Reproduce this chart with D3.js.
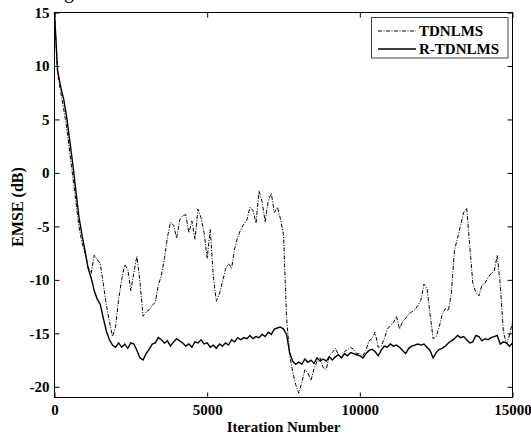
<!DOCTYPE html>
<html>
<head>
<meta charset="utf-8">
<script src="https://cdn.jsdelivr.net/npm/d3@7"></script>
<style>
  body { margin: 0; background: #fff; }
  svg { display: block; font-family: 'Liberation Serif', 'Times New Roman', serif; }
  .tick text { font-family: 'Liberation Serif', 'Times New Roman', serif; font-size: 15px; font-weight: bold; fill: #000; }
</style>
</head>
<body>
<svg id="chart" width="531" height="437"></svg>
<script>
const iterStep = 100;
const tdnlms = [
  15, 9.3, 7.6, 6.0, 4.2, 1.9, -0.4, -2.7, -5.0, -6.5,
  -7.5, -8.8, -9.4, -7.7, -8.1, -8.5, -10.4, -12.4, -13.9, -15.3,
  -14.4, -11.8, -10.0, -8.6, -9.0, -11.0, -9.3, -7.8, -10.2, -13.4,
  -13.0, -12.8, -12.4, -12.1, -10.5, -9.6, -8.0, -6.0, -4.6, -4.9,
  -6.1, -4.4, -4.0, -3.9, -5.6, -4.5, -6.2, -3.4, -4.2, -5.6,
  -8.0, -5.3, -9.6, -12.0, -11.3, -10.2, -9.0, -8.5, -8.9, -7.1,
  -6.0, -5.3, -4.8, -4.4, -3.2, -3.5, -4.7, -1.7, -2.7, -4.6,
  -2.6, -1.9, -3.7, -3.2, -4.3, -5.8, -13.5, -17.0, -18.6, -19.8,
  -20.6, -19.6, -18.4, -18.7, -19.4, -18.3, -17.6, -17.3, -18.2, -18.4,
  -17.1, -16.8, -16.4, -17.0, -17.3, -16.7, -16.5, -16.3, -16.5, -16.9,
  -16.9, -17.1, -16.6, -15.7, -15.5, -14.9, -16.3, -16.2, -15.5, -14.6,
  -14.3, -14.0, -13.4, -14.6, -13.9, -13.6, -13.2, -13.0, -12.8, -12.4,
  -11.9, -10.4, -10.8, -13.2, -15.5, -15.3, -14.4, -13.2, -12.7, -12.9,
  -11.2, -7.2, -6.1, -4.9, -3.7, -3.3, -6.8, -10.3, -11.2, -11.5,
  -10.5, -10.3, -9.8, -9.4, -9.2, -7.7, -10.5, -14.8, -16.0, -15.2,
  -13.9
];
const rTdnlms = [
  15, 9.6, 8.1, 6.9, 5.2, 3.0, 0.8, -1.7, -4.1, -5.8,
  -7.3, -8.9, -9.8, -11.0, -11.8, -12.3, -13.6, -14.8, -15.6, -16.1,
  -16.3, -15.9, -16.3, -16.0, -16.4, -15.9, -16.0, -16.6, -17.3, -17.5,
  -16.9, -16.5, -16.0, -15.9, -15.4, -15.6, -15.9, -15.7, -16.2, -15.8,
  -15.5, -15.7, -15.9, -16.2, -16.0, -16.3, -15.8, -15.9, -15.6, -16.0,
  -15.9, -16.3, -16.1, -16.4, -16.0, -16.2, -15.9, -16.1, -15.6, -15.8,
  -15.4, -15.6, -15.4, -15.5, -15.2, -15.5, -15.3, -15.4, -15.1, -15.3,
  -14.9, -15.1, -14.6, -14.5, -14.4, -14.6, -15.1, -16.8, -17.6, -17.9,
  -17.7, -17.9, -17.4, -17.7, -17.5, -17.8, -17.3, -17.6, -17.4, -17.6,
  -17.2, -17.5, -17.2, -17.0, -17.3, -16.9, -17.1, -16.8, -16.9, -17.0,
  -17.1, -17.3, -16.9, -16.6, -16.5, -16.7, -17.1, -16.6, -16.2, -16.3,
  -16.0, -16.2, -16.1, -16.3, -16.6, -16.9, -16.4, -16.2, -16.1, -16.0,
  -16.1, -16.0, -16.3, -16.6, -17.3, -16.8, -16.5, -16.4, -16.2, -15.9,
  -15.7, -15.5, -15.2, -15.4, -15.3, -15.6, -15.9, -15.8, -15.2, -15.3,
  -15.7, -15.5, -15.6, -15.4, -15.3, -15.2, -16.0, -15.8, -15.9, -16.2,
  -15.9
];
const xTicks = [0, 5000, 10000, 15000];
const yTicks = [15, 10, 5, 0, -5, -10, -15, -20];
const seriesNames = ['TDNLMS', 'R-TDNLMS'];

const svg = d3.select('#chart');
const plotLeft = 54.5, plotRight = 512.5, plotTop = 12.5, plotBottom = 397.5;

const x = d3.scaleLinear().domain([0, 15000]).range([plotLeft, plotRight]);
const y = d3.scaleLinear().domain([-21, 15]).range([plotBottom, plotTop]);

// cut-off caption glyph above the plot
svg.append('text')
  .attr('x', 64).attr('y', -2)
  .attr('font-size', 20)
  .text('g');

const line = d3.line()
  .x((d, i) => x(i * iterStep))
  .y(d => y(d));

const plot = svg.append('g');
plot.append('path')
  .datum(rTdnlms)
  .attr('fill', 'none')
  .attr('stroke', '#000')
  .attr('stroke-width', 1.4)
  .attr('d', line);
plot.append('path')
  .datum(tdnlms)
  .attr('fill', 'none')
  .attr('stroke', '#000')
  .attr('stroke-width', 1)
  .attr('stroke-dasharray', '4,1.5,1,1.5')
  .attr('d', line);

// axes with inward ticks on all four sides
const fmt = d => String(d);
svg.append('g')
  .attr('transform', `translate(0,${plotBottom})`)
  .call(d3.axisBottom(x).tickValues(xTicks).tickFormat(fmt).tickSizeInner(-5).tickSizeOuter(0).tickPadding(7))
  .call(g => g.select('.domain').remove());
svg.append('g')
  .attr('transform', `translate(0,${plotTop})`)
  .call(d3.axisTop(x).tickValues(xTicks).tickFormat('').tickSizeInner(-5).tickSizeOuter(0))
  .call(g => g.select('.domain').remove());
svg.append('g')
  .attr('transform', `translate(${plotLeft},0)`)
  .call(d3.axisLeft(y).tickValues(yTicks).tickFormat(fmt).tickSizeInner(-5).tickSizeOuter(0).tickPadding(5))
  .call(g => g.select('.domain').remove());
svg.append('g')
  .attr('transform', `translate(${plotRight},0)`)
  .call(d3.axisRight(y).tickValues(yTicks).tickFormat('').tickSizeInner(-5).tickSizeOuter(0))
  .call(g => g.select('.domain').remove());

svg.append('rect')
  .attr('x', plotLeft).attr('y', plotTop)
  .attr('width', plotRight - plotLeft).attr('height', plotBottom - plotTop)
  .attr('fill', 'none')
  .attr('stroke', '#000')
  .attr('stroke-width', 1);

svg.append('text')
  .attr('x', (plotLeft + plotRight) / 2).attr('y', 432)
  .attr('text-anchor', 'middle')
  .attr('font-size', 15).attr('font-weight', 'bold')
  .text('Iteration Number');
svg.append('text')
  .attr('transform', 'translate(22.5,207) rotate(-90)')
  .attr('text-anchor', 'middle')
  .attr('font-size', 16).attr('font-weight', 'bold')
  .text('EMSE (dB)');

// legend
const legend = svg.append('g');
legend.append('rect')
  .attr('x', 371.5).attr('y', 17.5)
  .attr('width', 136.5).attr('height', 40.5)
  .attr('fill', '#fff')
  .attr('stroke', '#444')
  .attr('stroke-width', 1);
seriesNames.forEach((name, i) => {
  const ly = 31 + i * 18;
  legend.append('line')
    .attr('x1', 378).attr('x2', 416)
    .attr('y1', ly).attr('y2', ly)
    .attr('stroke', '#000')
    .attr('stroke-width', i === 0 ? 1 : 1.4)
    .attr('stroke-dasharray', i === 0 ? '4,1.5,1,1.5' : null);
  legend.append('text')
    .attr('x', 419).attr('y', ly + 4.5)
    .attr('font-size', 15).attr('font-weight', 'bold')
    .text(name);
});
</script>
</body>
</html>
